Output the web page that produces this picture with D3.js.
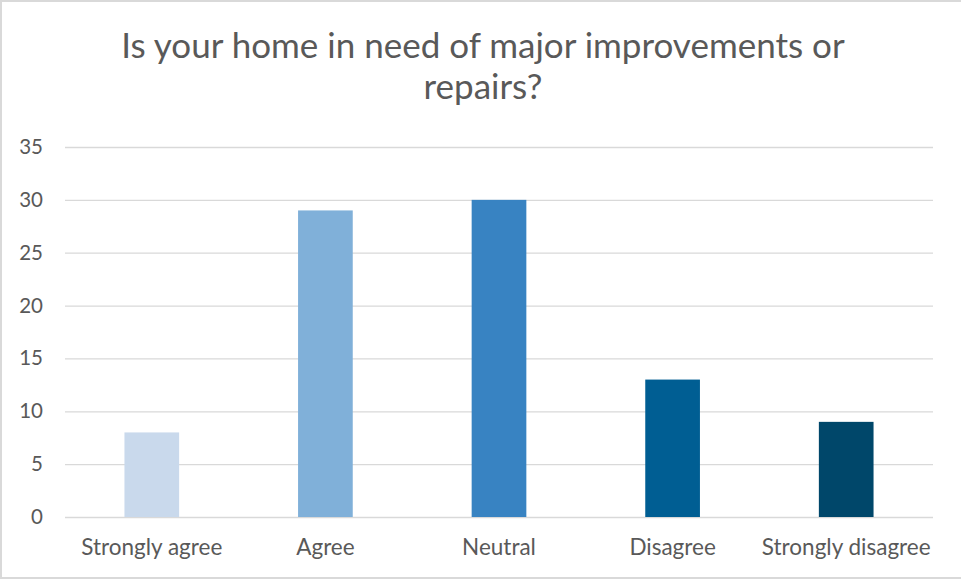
<!DOCTYPE html>
<html>
<head>
<meta charset="utf-8">
<script src="https://cdn.jsdelivr.net/npm/d3@7"></script>
<style>
  body { margin: 0; background: #fff; }
  text { font-family: Lato, "Open Sans", sans-serif; fill: #595959; }
</style>
</head>
<body>
<script>
var w = 961;
var h = 580;

var categories = ["Strongly agree", "Agree", "Neutral", "Disagree", "Strongly disagree"];
var values = [8, 29, 30, 13, 9];
var colors = ["#c9d9ec", "#80b0d9", "#3883c2", "#005e93", "#00476a"];
var yTicks = [0, 5, 10, 15, 20, 25, 30, 35];
var titleLines = ["Is your home in need of major improvements or", "repairs?"];

var margin = {left: 65, right: 28, top: 147, bottom: 63};

var svg = d3.select("body").append("svg")
            .attr("width", w)
            .attr("height", h);

// outer frame
svg.append("rect")
   .attr("x", 1).attr("y", 1)
   .attr("width", w + 4).attr("height", h - 3)
   .attr("fill", "none")
   .attr("stroke", "#d9d9d9")
   .attr("stroke-width", 2);

var x = d3.scaleBand()
          .domain(categories)
          .range([margin.left, w - margin.right])
          .paddingInner(0.685)
          .paddingOuter(0.3425);

var y = d3.scaleLinear()
          .domain([0, 35])
          .range([h - margin.bottom, margin.top]);

// gridlines + y labels
var yAxis = svg.append("g")
   .attr("transform", "translate(" + margin.left + ",0)")
   .call(d3.axisLeft(y).tickValues(yTicks).tickSize(-(w - margin.left - margin.right)).tickPadding(22));
yAxis.select(".domain").remove();
yAxis.selectAll(".tick line").attr("stroke", "#d9d9d9").attr("stroke-width", 1.3);
yAxis.selectAll(".tick text")
     .attr("font-size", "20.5px")
     .attr("font-family", "Lato, sans-serif")
     .attr("fill", "#595959");

// bars
svg.selectAll("rect.bar")
   .data(values)
   .enter()
   .append("rect")
   .attr("class", "bar")
   .attr("x", function(d, i) { return x(categories[i]); })
   .attr("y", function(d) { return y(d); })
   .attr("width", x.bandwidth())
   .attr("height", function(d) { return y(0) - y(d); })
   .attr("fill", function(d, i) { return colors[i]; });

// category labels
var xAxis = svg.append("g")
   .attr("transform", "translate(0," + (h - margin.bottom) + ")")
   .call(d3.axisBottom(x).tickSize(0).tickPadding(22));
xAxis.select(".domain").remove();
xAxis.selectAll(".tick text")
     .attr("font-size", "22.5px")
     .attr("font-family", "Lato, sans-serif")
     .attr("fill", "#595959");

// title
svg.selectAll("text.title")
   .data(titleLines)
   .enter()
   .append("text")
   .attr("class", "title")
   .attr("x", (w + 5) / 2)
   .attr("y", function(d, i) { return 58 + i * 41; })
   .attr("text-anchor", "middle")
   .attr("font-size", "35px")
   .text(function(d) { return d; });
</script>
</body>
</html>
